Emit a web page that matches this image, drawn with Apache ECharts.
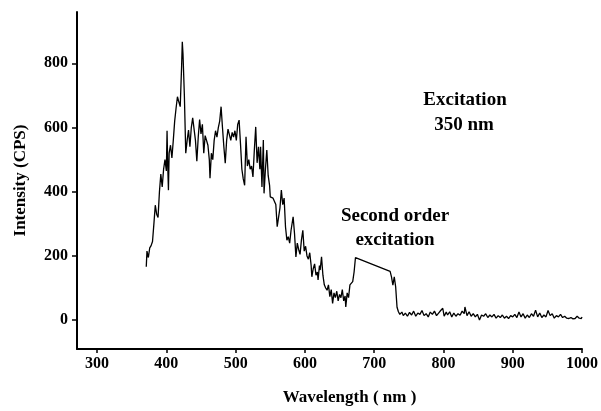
<!DOCTYPE html>
<html><head><meta charset="utf-8">
<script src="https://cdn.jsdelivr.net/npm/echarts@6/dist/echarts.min.js"></script>
<style>html,body{margin:0;padding:0;background:#fff}#c{width:601px;height:411px}</style>
</head><body><div id="c"></div>
<script>
var wavelength = [371,372,374,376,378,380,382,384,386,388,390,392,394,396,398,400,401,402,403,404,406,408,410,412,414,416,418,420,422,423,424,426,428,430,432,434,436,438,440,442,444,446,448,450,452,454,456,458,460,462,463,465,467,469,471,473,475,477,479,481,483,485,487,489,491,493,495,497,499,501,503,505,507,509,511,513,515,517,519,521,523,525,527,529,531,533,535,536,538,540,541,543,545,547,549,550,552,554,556,558,560,562,564,566,568,570,572,574,576,578,580,583,585,587,589,591,593,595,597,599,601,603,605,607,609,610,612,614,616,618,619,621,622,624,626,628,630,632,634,636,638,640,642,644,646,648,650,652,654,656,658,659,661,663,665,667,669,671,673,723,725,727,729,731,733,735,737,740,742,745,748,751,754,757,760,763,766,769,772,775,778,781,784,787,790,793,796,799,801,804,806,809,812,815,818,821,824,827,830,831,834,837,840,843,846,849,852,855,858,861,864,867,870,873,876,879,882,885,888,891,894,897,900,903,906,909,912,915,918,921,924,927,930,933,936,939,942,945,948,951,954,957,960,963,966,969,972,975,978,981,984,987,990,993,996,999,1000];
var intensity = [166,215,195,225,232,245,300,358,330,320,400,455,415,470,500,465,590,480,405,520,545,505,560,620,660,696,680,665,790,867,830,700,520,560,592,540,600,630,635,560,495,570,625,580,610,520,575,575,545,500,442,520,500,560,590,570,600,620,665,600,540,489,560,595,590,560,585,570,590,560,610,623,550,470,440,420,571,480,500,470,480,446,530,602,490,540,470,540,415,561,395,470,530,450,420,384,390,380,385,360,291,285,350,405,360,380,290,249,260,240,280,322,270,197,240,220,205,250,280,215,230,200,190,210,170,135,160,175,140,150,125,170,156,197,140,110,100,93,110,73,95,52,85,70,90,60,80,70,95,60,75,41,85,70,110,114,120,150,195,152,135,109,135,104,40,26,18,25,14,22,12,24,16,28,12,22,18,30,14,20,10,25,18,28,14,22,30,37,12,25,16,26,10,22,12,20,15,28,20,41,14,26,12,20,10,18,0,16,12,20,8,16,10,18,6,14,8,16,6,12,5,14,10,18,8,25,10,20,6,16,8,20,12,31,10,22,8,16,10,30,14,20,6,14,10,18,8,12,6,5,8,4,5,12,6,5,10];
var xTicks = [300,400,500,600,700,800,900,1000];
var yTicks = [0,200,400,600,800];
var xTitle = 'Wavelength ( nm )';
var yTitle = 'Intensity (CPS)';
var note1 = ['Excitation', '350 nm'];
var note2 = ['Second order', 'excitation'];

var data = wavelength.map(function(w, i){ return [w, intensity[i]]; });
var font = 'Liberation Serif';
function noteText(txt, x, y){
  return {type: 'text', x: x, y: y, style: {text: txt, fontFamily: font, fontWeight: 'bold', fontSize: 19, fill: '#000', align: 'center', verticalAlign: 'middle'}};
}
var chart = echarts.init(document.getElementById('c'), null, {renderer:'canvas'});
chart.setOption({
  animation: false,
  backgroundColor: '#fff',
  grid: {left: 77, right: 19, top: 12, bottom: 62, containLabel: false},
  xAxis: {
    type: 'value', min: 271, max: 1000,
    name: xTitle, nameLocation: 'middle', nameGap: 40,
    nameTextStyle: {fontFamily: font, fontWeight: 'bold', fontSize: 17, color: '#000', padding: [0,0,0,40]},
    axisLine: {onZero: false, lineStyle: {color: '#000', width: 2}},
    axisTick: {show: true, length: 4, inside: false, lineStyle: {color: '#000', width: 1.5}, customValues: xTicks},
    axisLabel: {fontFamily: font, fontWeight: 'bold', fontSize: 16, color: '#000', margin: 7, customValues: xTicks,
      formatter: function(v){ return String(v); }},
    splitLine: {show: false}
  },
  yAxis: {
    type: 'value', min: -90, max: 960,
    name: yTitle, nameLocation: 'middle', nameGap: 48, nameRotate: 90,
    nameTextStyle: {fontFamily: font, fontWeight: 'bold', fontSize: 17, color: '#000'},
    axisLine: {onZero: false, lineStyle: {color: '#000', width: 2}},
    axisTick: {show: true, length: 5, inside: false, lineStyle: {color: '#000', width: 1.5}, customValues: yTicks},
    axisLabel: {fontFamily: font, fontWeight: 'bold', fontSize: 16, color: '#000', margin: 9, customValues: yTicks,
      formatter: function(v){ return String(v); }},
    splitLine: {show: false}
  },
  series: [{
    type: 'line', data: data, showSymbol: false, symbol: 'none',
    lineStyle: {color: '#000', width: 1.3}
  }],
  graphic: [
    noteText(note1[0], 465, 100),
    noteText(note1[1], 464, 125),
    noteText(note2[0], 395, 216),
    noteText(note2[1], 395, 240)
  ]
});
</script></body></html>
